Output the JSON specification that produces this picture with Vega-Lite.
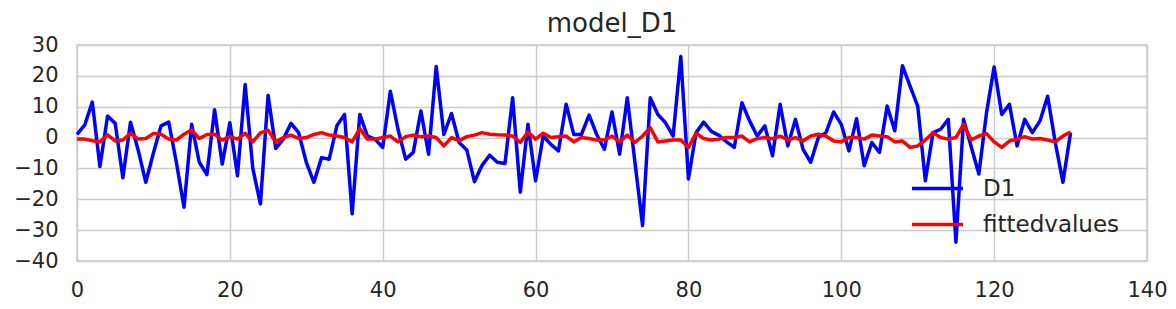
{
 "$schema": "https://vega.github.io/schema/vega-lite/v6.json",
 "width": 1070,
 "height": 216,
 "autosize": "none",
 "padding": {"left": 77, "top": 45, "right": 29, "bottom": 48},
 "background": "white",
 "title": {"text": "model_D1", "fontSize": 26, "font": "DejaVu Sans", "fontWeight": "normal", "color": "#262626", "baseline": "bottom", "offset": 4, "dy": 33},
 "config": {"view": {"stroke": "#cccccc", "strokeWidth": 1.5}, "font": "DejaVu Sans"},
 "data": {"values": [
  {"x":0,"D1":1,"fittedvalues":-0.5},{"x":1,"D1":4,"fittedvalues":-0.5},{"x":2,"D1":11.5,"fittedvalues":-1},{"x":3,"D1":-9.4,"fittedvalues":-1.4},{"x":4,"D1":7,"fittedvalues":0.9},
  {"x":5,"D1":4.6,"fittedvalues":-1.1},{"x":6,"D1":-13,"fittedvalues":-0.8},{"x":7,"D1":5,"fittedvalues":1.4},{"x":8,"D1":-4,"fittedvalues":-0.5},{"x":9,"D1":-14.5,"fittedvalues":-0.3},
  {"x":10,"D1":-5,"fittedvalues":1.3},{"x":11,"D1":3.8,"fittedvalues":1.1},{"x":12,"D1":5,"fittedvalues":-0.5},{"x":13,"D1":-8,"fittedvalues":-0.8},{"x":14,"D1":-22.6,"fittedvalues":1.1},
  {"x":15,"D1":4.3,"fittedvalues":2.4},{"x":16,"D1":-8,"fittedvalues":-0.3},{"x":17,"D1":-12,"fittedvalues":1},{"x":18,"D1":9,"fittedvalues":1.1},{"x":19,"D1":-8.6,"fittedvalues":-0.8},
  {"x":20,"D1":4.8,"fittedvalues":0.3},{"x":21,"D1":-12.4,"fittedvalues":-0.5},{"x":22,"D1":17.2,"fittedvalues":1.4},{"x":23,"D1":-10,"fittedvalues":-1.4},{"x":24,"D1":-21.5,"fittedvalues":1.5},
  {"x":25,"D1":13.7,"fittedvalues":2.4},{"x":26,"D1":-3.5,"fittedvalues":-1.4},{"x":27,"D1":-0.5,"fittedvalues":0},{"x":28,"D1":4.6,"fittedvalues":0.8},{"x":29,"D1":1.6,"fittedvalues":-0.3},
  {"x":30,"D1":-8,"fittedvalues":0},{"x":31,"D1":-14.5,"fittedvalues":1},{"x":32,"D1":-6.5,"fittedvalues":1.6},{"x":33,"D1":-7,"fittedvalues":0.8},{"x":34,"D1":3.8,"fittedvalues":0.5},
  {"x":35,"D1":7.5,"fittedvalues":0},{"x":36,"D1":-24.7,"fittedvalues":-1.4},{"x":37,"D1":7.5,"fittedvalues":2.9},{"x":38,"D1":0.5,"fittedvalues":-0.5},{"x":39,"D1":-0.5,"fittedvalues":-0.5},
  {"x":40,"D1":-3.2,"fittedvalues":0},{"x":41,"D1":15,"fittedvalues":0.5},{"x":42,"D1":2.7,"fittedvalues":-1.4},{"x":43,"D1":-7,"fittedvalues":0.3},{"x":44,"D1":-4.8,"fittedvalues":0.8},
  {"x":45,"D1":8.6,"fittedvalues":0.3},{"x":46,"D1":-5.4,"fittedvalues":0.5},{"x":47,"D1":23,"fittedvalues":0},{"x":48,"D1":1,"fittedvalues":-2.7},{"x":49,"D1":7.8,"fittedvalues":0},
  {"x":50,"D1":-1.6,"fittedvalues":-1},{"x":51,"D1":-4,"fittedvalues":0.3},{"x":52,"D1":-14.3,"fittedvalues":0.8},{"x":53,"D1":-9,"fittedvalues":1.6},{"x":54,"D1":-5.7,"fittedvalues":1.1},
  {"x":55,"D1":-8,"fittedvalues":0.9},{"x":56,"D1":-8.4,"fittedvalues":0.8},{"x":57,"D1":12.9,"fittedvalues":0.5},{"x":58,"D1":-17.7,"fittedvalues":-1.6},{"x":59,"D1":4.3,"fittedvalues":1.8},
  {"x":60,"D1":-14,"fittedvalues":-0.5},{"x":61,"D1":0.5,"fittedvalues":1.4},{"x":62,"D1":-2.2,"fittedvalues":0},{"x":63,"D1":-4.3,"fittedvalues":0.3},{"x":64,"D1":10.8,"fittedvalues":0.5},
  {"x":65,"D1":1,"fittedvalues":-1.4},{"x":66,"D1":1,"fittedvalues":0},{"x":67,"D1":7.3,"fittedvalues":-0.3},{"x":68,"D1":1,"fittedvalues":-0.8},{"x":69,"D1":-3.8,"fittedvalues":-0.8},
  {"x":70,"D1":8.3,"fittedvalues":0.5},{"x":71,"D1":-5.4,"fittedvalues":-1.4},{"x":72,"D1":12.9,"fittedvalues":0.8},{"x":73,"D1":-8,"fittedvalues":-1.6},{"x":74,"D1":-28.5,"fittedvalues":0.5},
  {"x":75,"D1":12.9,"fittedvalues":3.2},{"x":76,"D1":7.5,"fittedvalues":-1.4},{"x":77,"D1":4.8,"fittedvalues":-1.1},{"x":78,"D1":0.5,"fittedvalues":-0.8},{"x":79,"D1":26.3,"fittedvalues":-0.8},
  {"x":80,"D1":-13.4,"fittedvalues":-3.2},{"x":81,"D1":1.6,"fittedvalues":1.4},{"x":82,"D1":5,"fittedvalues":-0.3},{"x":83,"D1":2,"fittedvalues":-0.8},{"x":84,"D1":0.7,"fittedvalues":-0.5},
  {"x":85,"D1":-1.4,"fittedvalues":0},{"x":86,"D1":-3.2,"fittedvalues":0},{"x":87,"D1":11.3,"fittedvalues":0.5},{"x":88,"D1":5.4,"fittedvalues":-1.4},{"x":89,"D1":0.5,"fittedvalues":-0.3},
  {"x":90,"D1":3.8,"fittedvalues":0},{"x":91,"D1":-5.9,"fittedvalues":-0.4},{"x":92,"D1":10.8,"fittedvalues":0.5},{"x":93,"D1":-2.7,"fittedvalues":-0.8},{"x":94,"D1":5.9,"fittedvalues":0},
  {"x":95,"D1":-3.8,"fittedvalues":-1.1},{"x":96,"D1":-8,"fittedvalues":0.5},{"x":97,"D1":0,"fittedvalues":1.1},{"x":98,"D1":1.6,"fittedvalues":0.5},{"x":99,"D1":8.3,"fittedvalues":-1.1},
  {"x":100,"D1":4.3,"fittedvalues":-1.4},{"x":101,"D1":-4.3,"fittedvalues":0},{"x":102,"D1":6.1,"fittedvalues":0},{"x":103,"D1":-9.1,"fittedvalues":-0.5},{"x":104,"D1":-1.6,"fittedvalues":0.8},
  {"x":105,"D1":-4.8,"fittedvalues":0.5},{"x":106,"D1":10.2,"fittedvalues":0.3},{"x":107,"D1":2.2,"fittedvalues":-1.4},{"x":108,"D1":23.3,"fittedvalues":-1.1},{"x":109,"D1":16.7,"fittedvalues":-3.2},
  {"x":110,"D1":10.2,"fittedvalues":-2.7},{"x":111,"D1":-14,"fittedvalues":-0.8},{"x":112,"D1":1.6,"fittedvalues":1.6},{"x":113,"D1":2.7,"fittedvalues":0},{"x":114,"D1":5.9,"fittedvalues":-0.5},
  {"x":115,"D1":-33.9,"fittedvalues":0},{"x":116,"D1":5.9,"fittedvalues":4.3},{"x":117,"D1":-3,"fittedvalues":-0.8},{"x":118,"D1":-11.8,"fittedvalues":0.5},{"x":119,"D1":8,"fittedvalues":1.3},
  {"x":120,"D1":22.9,"fittedvalues":-1.4},{"x":121,"D1":7.5,"fittedvalues":-3.2},{"x":122,"D1":10.8,"fittedvalues":-1.1},{"x":123,"D1":-2.7,"fittedvalues":-0.5},{"x":124,"D1":5.9,"fittedvalues":0.3},
  {"x":125,"D1":1.6,"fittedvalues":-0.5},{"x":126,"D1":5.4,"fittedvalues":-0.3},{"x":127,"D1":13.4,"fittedvalues":-0.8},{"x":128,"D1":-1.6,"fittedvalues":-1.4},{"x":129,"D1":-14.5,"fittedvalues":0.5},
  {"x":130,"D1":1.6,"fittedvalues":1.8}
 ]},
 "transform": [{"fold": ["D1", "fittedvalues"], "as": ["series", "value"]}],
 "mark": {"type": "line", "strokeWidth": 3.5, "strokeJoin": "round"},
 "encoding": {
  "x": {"field": "x", "type": "quantitative",
        "scale": {"domain": [0, 140], "nice": false, "zero": false},
        "axis": {"values": [0, 20, 40, 60, 80, 100, 120, 140], "title": null, "grid": true, "gridColor": "#cccccc", "gridWidth": 1.5, "domain": false, "ticks": false, "labelPadding": 18, "labelFontSize": 21, "labelColor": "#262626", "labelFont": "DejaVu Sans", "labelFlush": false}},
  "y": {"field": "value", "type": "quantitative",
        "scale": {"domain": [-40, 30], "nice": false, "zero": false},
        "axis": {"values": [-40, -30, -20, -10, 0, 10, 20, 30], "title": null, "grid": true, "gridColor": "#cccccc", "gridWidth": 1.5, "domain": false, "ticks": false, "labelPadding": 19, "labelFontSize": 21, "labelColor": "#262626", "labelFont": "DejaVu Sans", "labelFlush": false}},
  "color": {"field": "series", "type": "nominal",
            "scale": {"domain": ["D1", "fittedvalues"], "range": ["#0000ff", "#ff0000"]},
            "legend": {"orient": "none", "legendX": 848, "legendY": 131, "title": null, "symbolType": "M-2.43,0L2.43,0", "symbolSize": 441, "symbolStrokeWidth": 3.5, "labelFontSize": 23, "labelColor": "#262626", "labelFont": "DejaVu Sans", "labelOffset": 33, "rowPadding": 11, "padding": 0}}
 }
}
